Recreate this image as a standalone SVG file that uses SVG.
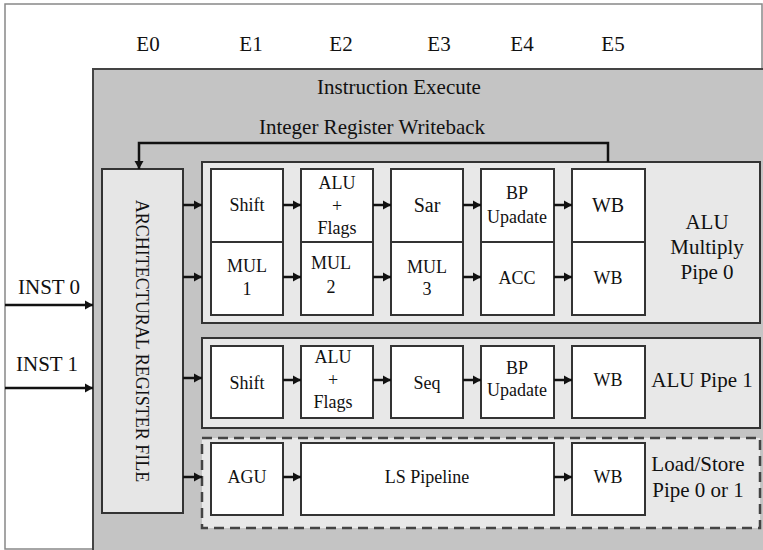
<svg xmlns="http://www.w3.org/2000/svg" width="763" height="550" viewBox="0 0 763 550" font-family="'Liberation Serif', 'DejaVu Serif', serif">
<style>
text{font-family:"Liberation Serif","DejaVu Serif",serif;fill:#111;text-anchor:middle;dominant-baseline:central}
.lbl{font-size:21px}
.bt{font-size:18px}
.big{font-size:20px}
.box{fill:#fff;stroke:#333;stroke-width:2}
.panel{fill:#e8e8e8;stroke:#333;stroke-width:2}
.conn{stroke:#111;stroke-width:2.5;fill:none;marker-end:url(#ah)}
</style>
<defs>
<marker id="ah" markerUnits="userSpaceOnUse" markerWidth="10" markerHeight="10" refX="8" refY="5" orient="auto">
<path d="M0,0.5 L8,5 L0,9.5 Z" fill="#111"/>
</marker>
</defs>
<rect x="0" y="0" width="763" height="550" fill="#fff"/>
<rect x="5" y="4" width="757" height="545" fill="none" stroke="#888" stroke-width="1.5"/>
<g id="stages">
<text class="lbl" x="148" y="44">E0</text>
<text class="lbl" x="251" y="44">E1</text>
<text class="lbl" x="341" y="44">E2</text>
<text class="lbl" x="439" y="44">E3</text>
<text class="lbl" x="522" y="44">E4</text>
<text class="lbl" x="613" y="44">E5</text>
</g>
<g id="execute">
<rect x="93" y="69" width="672" height="485" fill="#c4c4c4" stroke="#444" stroke-width="2"/>
<text class="lbl" x="399" y="87">Instruction Execute</text>
<text class="lbl" x="372" y="127">Integer Register Writeback</text>
</g>
<g id="inst0"><text class="lbl" x="49" y="287">INST 0</text></g>
<g id="inst1"><text class="lbl" x="47" y="364">INST 1</text></g>
<g id="arf">
<rect x="102" y="169" width="81" height="344" fill="#e6e6e6" stroke="#333" stroke-width="2"/>
<text class="bt" transform="translate(142,341) rotate(90)">ARCHITECTURAL REGISTER FILE</text>
</g>
<g id="pipe0">
<rect class="panel" x="202" y="162" width="558" height="161"/>
<text class="lbl" x="707" y="222">ALU</text>
<text class="lbl" x="707" y="247">Multiply</text>
<text class="lbl" x="707" y="272">Pipe 0</text>
</g>
<g id="pipe1">
<rect class="panel" x="202" y="338" width="558" height="90"/>
<text class="lbl" x="702" y="380">ALU Pipe 1</text>
</g>
<g id="lspipe">
<rect x="202" y="438" width="558" height="90" fill="#e8e8e8" stroke="#444" stroke-width="2.5" stroke-dasharray="10 6"/>
<text class="lbl" x="698" y="464">Load/Store</text>
<text class="lbl" x="698" y="490">Pipe 0 or 1</text>
</g>
<g id="shift0"><rect class="box" x="211" y="169" width="72" height="73"/><text class="bt" x="247" y="205">Shift</text></g>
<g id="alu0"><rect class="box" x="301" y="169" width="72" height="73"/><text class="bt" x="337" y="183">ALU</text><text class="bt" x="337" y="206">+</text><text class="bt" x="337" y="228">Flags</text></g>
<g id="sar"><rect class="box" x="391" y="169" width="72" height="73"/><text class="big" x="427" y="205">Sar</text></g>
<g id="bp0"><rect class="box" x="481" y="169" width="73" height="73"/><text class="bt" x="517" y="193">BP</text><text class="bt" x="517" y="217">Upadate</text></g>
<g id="wb0"><rect class="box" x="572" y="169" width="73" height="73"/><text class="big" x="608" y="205">WB</text></g>
<g id="mul1"><rect class="box" x="211" y="242" width="72" height="73"/><text class="bt" x="247" y="266">MUL</text><text class="bt" x="247" y="289">1</text></g>
<g id="mul2"><rect class="box" x="301" y="242" width="72" height="73"/><text class="bt" x="331" y="263">MUL</text><text class="bt" x="331" y="287">2</text></g>
<g id="mul3"><rect class="box" x="391" y="242" width="72" height="73"/><text class="bt" x="427" y="267">MUL</text><text class="bt" x="427" y="289">3</text></g>
<g id="acc"><rect class="box" x="481" y="242" width="73" height="73"/><text class="bt" x="517" y="278">ACC</text></g>
<g id="wb0b"><rect class="box" x="572" y="242" width="73" height="73"/><text class="bt" x="608" y="278">WB</text></g>
<g id="shift1"><rect class="box" x="211" y="346" width="72" height="72"/><text class="bt" x="247" y="383">Shift</text></g>
<g id="alu1"><rect class="box" x="301" y="346" width="72" height="72"/><text class="bt" x="333" y="357">ALU</text><text class="bt" x="333" y="380">+</text><text class="bt" x="333" y="402">Flags</text></g>
<g id="seq"><rect class="box" x="391" y="346" width="72" height="72"/><text class="bt" x="427" y="383">Seq</text></g>
<g id="bp1"><rect class="box" x="481" y="346" width="73" height="72"/><text class="bt" x="517" y="368">BP</text><text class="bt" x="517" y="390">Upadate</text></g>
<g id="wb1"><rect class="box" x="572" y="346" width="73" height="72"/><text class="bt" x="608" y="380">WB</text></g>
<g id="agu"><rect class="box" x="211" y="443" width="72" height="72"/><text class="bt" x="247" y="477">AGU</text></g>
<g id="lsp"><rect class="box" x="301" y="443" width="253" height="72"/><text class="bt" x="427" y="477">LS Pipeline</text></g>
<g id="wb2"><rect class="box" x="572" y="443" width="73" height="72"/><text class="bt" x="608" y="477">WB</text></g>
<g id="connectors">
<path class="conn" d="M608,162 V143 H139 V169"/>
<path class="conn" d="M5,305 H93"/>
<path class="conn" d="M5,388 H93"/>
<path class="conn" d="M183,205 H202"/>
<path class="conn" d="M183,277 H202"/>
<path class="conn" d="M183,378 H202"/>
<path class="conn" d="M183,477 H202"/>
<path class="conn" d="M283,205 H301"/>
<path class="conn" d="M373,205 H391"/>
<path class="conn" d="M463,205 H481"/>
<path class="conn" d="M554,205 H572"/>
<path class="conn" d="M283,277 H301"/>
<path class="conn" d="M373,277 H391"/>
<path class="conn" d="M463,277 H481"/>
<path class="conn" d="M554,277 H572"/>
<path class="conn" d="M283,380 H301"/>
<path class="conn" d="M373,380 H391"/>
<path class="conn" d="M463,380 H481"/>
<path class="conn" d="M554,380 H572"/>
<path class="conn" d="M283,477 H301"/>
<path class="conn" d="M554,477 H572"/>
</g>
</svg>
